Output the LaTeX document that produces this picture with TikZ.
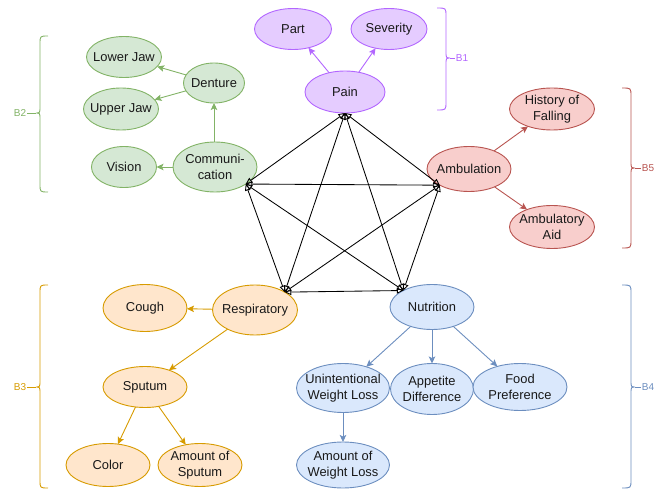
\documentclass[tikz,border=0pt]{standalone}
\usepackage{fontspec}
\setmainfont{Liberation Sans}
\usetikzlibrary{shapes.geometric,arrows.meta}
\definecolor{pF}{HTML}{E5CCFF}\definecolor{pS}{HTML}{B266FF}
\definecolor{gF}{HTML}{D5E8D4}\definecolor{gS}{HTML}{82B366}
\definecolor{rF}{HTML}{F8CECC}\definecolor{rS}{HTML}{B85450}
\definecolor{oF}{HTML}{FFE6CC}\definecolor{oS}{HTML}{D79B00}
\definecolor{bF}{HTML}{DAE8FC}\definecolor{bS}{HTML}{6C8EBF}
\tikzset{
  base/.style={ellipse, draw, line width=0.9pt, inner xsep=-14pt, inner ysep=-8pt, outer sep=0pt, align=center,
    font=\fontsize{12.9}{15.8}\selectfont, text=black!90},
  sz/.style 2 args={minimum width=#1pt, minimum height=#2pt},
  pur/.style={base, fill=pF, draw=pS},
  grn/.style={base, fill=gF, draw=gS},
  red/.style={base, fill=rF, draw=rS},
  org/.style={base, fill=oF, draw=oS},
  blu/.style={base, fill=bF, draw=bS},
  garr/.style={draw=#1, line width=0.9pt, -{Stealth[length=7pt,width=6.5pt,inset=1.5pt]}},
  parr/.style={draw=black, line width=0.85pt, {Triangle[open,length=6.5pt,width=6pt]}-{Triangle[open,length=6.5pt,width=6pt]}},
  brace/.style={draw=#1, line width=0.9pt},
  blabel/.style={text=#1, font=\fontsize{10}{11}\selectfont, inner sep=1pt}
}
\begin{document}
\begin{tikzpicture}[x=1pt,y=-1pt]
\useasboundingbox (0,0) rectangle (662,489);
% purple group
\node[pur, sz={80}{42}] (pain) at (345,92) {Pain};
\node[pur, sz={77}{41}] (part) at (293,29) {Part};
\node[pur, sz={76}{41}] (sev) at (389,29) {Severity};
% green group
\node[grn, sz={75}{41}] (ljaw) at (124,57) {Lower Jaw};
\node[grn, sz={75}{42}] (ujaw) at (121,109) {Upper Jaw};
\node[grn, sz={61}{40}] (den) at (214,83) {Denture};
\node[grn, sz={84}{50}] (comm) at (215,167) {Communi-\\cation};
\node[grn, sz={65}{41}] (vis) at (124,167) {Vision};
% red group
\node[red, sz={85}{42}] (hist) at (552,109) {History of\\Falling};
\node[red, sz={84}{45}] (amb) at (469,169) {Ambulation};
\node[red, sz={85}{43}] (aid) at (552,227) {Ambulatory\\Aid};
% orange group
\node[org, sz={84}{47}] (cough) at (145,308) {Cough};
\node[org, sz={85}{50}] (resp) at (255,310) {Respiratory};
\node[org, sz={84}{41}] (sput) at (145,387) {Sputum};
\node[org, sz={84}{43}] (color) at (108,465) {Color};
\node[org, sz={84}{43}] (asput) at (200,465) {Amount of\\Sputum};
% blue group
\node[blu, sz={84}{45}] (nut) at (432,307) {Nutrition};
\node[blu, sz={93}{49}] (uwl) at (343,388) {Unintentional\\Weight Loss};
\node[blu, sz={83}{51}] (app) at (432,389) {Appetite\\Difference};
\node[blu, sz={94}{47}] (food) at (520,387) {Food\\Preference};
\node[blu, sz={93}{46}] (awl) at (343,465) {Amount of\\Weight Loss};
% group edges
\draw[garr=pS] (pain) -- (part);
\draw[garr=pS] (pain) -- (sev);
\draw[garr=gS] (den) -- (ljaw);
\draw[garr=gS] (den) -- (ujaw);
\draw[garr=gS] (comm.north -| den) -- (den);
\draw[garr=gS] (comm) -- (vis);
\draw[garr=rS] (amb) -- (hist);
\draw[garr=rS] (amb) -- (aid);
\draw[garr=oS] (resp) -- (cough);
\draw[garr=oS] (resp) -- (sput);
\draw[garr=oS] (sput) -- (color);
\draw[garr=oS] (sput) -- (asput);
\draw[garr=bS] (nut) -- (uwl);
\draw[garr=bS] (nut) -- (app);
\draw[garr=bS] (nut) -- (food);
\draw[garr=bS] (uwl) -- (awl);
% central pentagon
\draw[parr] (pain.south) -- (comm.-29);
\draw[parr] (pain.south) -- (amb.209);
\draw[parr] (pain.south) -- (resp.31);
\draw[parr] (pain.south) -- (nut.150);
\draw[parr] (comm.-29) -- (amb.209);
\draw[parr] (comm.-29) -- (resp.31);
\draw[parr] (comm.-29) -- (nut.150);
\draw[parr] (amb.209) -- (resp.31);
\draw[parr] (amb.209) -- (nut.150);
\draw[parr] (resp.31) -- (nut.150);
% braces
\draw[brace=pS] (437,8) .. controls (446,8) .. (446,16) -- (446,51) .. controls (446,58) .. (450,58) .. controls (446,58) .. (446,65) -- (446,102) .. controls (446,110) .. (437,110);
\node[blabel=pS] (b1) at (462,58) {B1};
\draw[brace=pS] (450,58) -- (b1.west);
\draw[brace=gS] (48,36) .. controls (40,36) .. (40,44) -- (40,106) .. controls (40,113) .. (36,113) .. controls (40,113) .. (40,120) -- (40,184) .. controls (40,192) .. (48,192);
\node[blabel=gS] (b2) at (20,113) {B2};
\draw[brace=gS] (36,113) -- (b2.east);
\draw[brace=oS] (48,285) .. controls (40,285) .. (40,293) -- (40,380) .. controls (40,387) .. (36,387) .. controls (40,387) .. (40,394) -- (40,480) .. controls (40,488) .. (48,488);
\node[blabel=oS] (b3) at (20,387) {B3};
\draw[brace=oS] (36,387) -- (b3.east);
\draw[brace=bS] (622,285) .. controls (631,285) .. (631,293) -- (631,380) .. controls (631,387) .. (635,387) .. controls (631,387) .. (631,394) -- (631,480) .. controls (631,488) .. (622,488);
\node[blabel=bS] (b4) at (648,387) {B4};
\draw[brace=bS] (635,387) -- (b4.west);
\draw[brace=rS] (622,88) .. controls (631,88) .. (631,96) -- (631,161) .. controls (631,168) .. (635,168) .. controls (631,168) .. (631,175) -- (631,240) .. controls (631,248) .. (622,248);
\node[blabel=rS] (b5) at (648,168) {B5};
\draw[brace=rS] (635,168) -- (b5.west);
\end{tikzpicture}
\end{document}
